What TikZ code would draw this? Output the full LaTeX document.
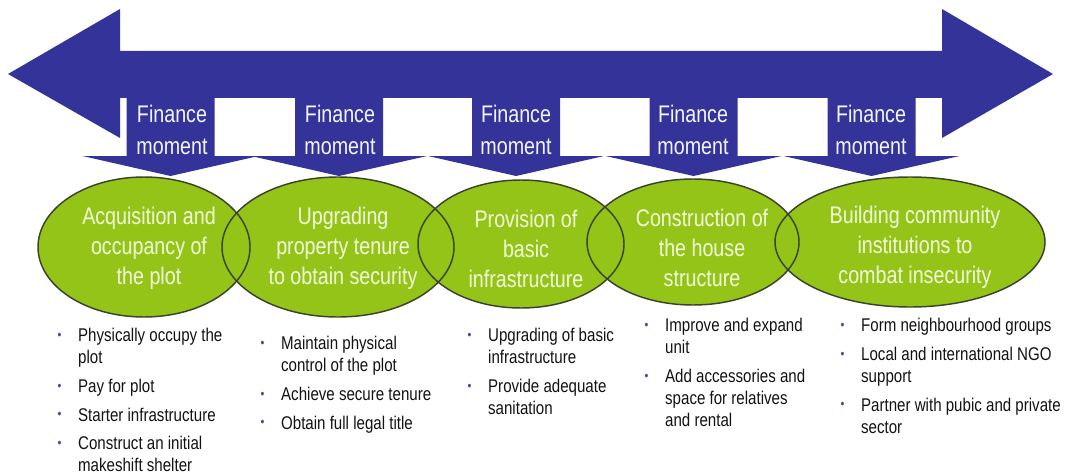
\documentclass[tikz,border=0pt]{standalone}
\usepackage{fontspec}
\newfontfamily\narrowfont[FakeStretch=0.82]{Liberation Sans}
\newcommand{\stagedot}{\makebox[15.5pt][l]{\color[RGB]{70,70,155}\fontsize{10}{10}\selectfont\raisebox{0.35ex}{\textbullet}}}

\tikzset{every picture/.style={line width=0.75pt}}
\tikzset{
  flowblue/.style={fill={rgb, 255:red, 51; green, 51; blue, 153 }},
  stagefill/.style={fill={rgb, 255:red, 148; green, 196; blue, 24 }},
  stageline/.style={draw={rgb, 255:red, 58; green, 68; blue, 44 }, line width=1.1pt},
  fintext/.style={color={rgb, 255:red, 245; green, 245; blue, 255 }, font=\narrowfont\fontsize{18}{24}\selectfont, align=center, inner sep=0pt},
  stagetext/.style={color={rgb, 255:red, 242; green, 250; blue, 218 }, font=\narrowfont\fontsize{18}{22.5}\selectfont, align=center, inner sep=0pt},
  listtext/.style={color={rgb, 255:red, 18; green, 18; blue, 18 }, font=\narrowfont\fontsize{13.8}{16.5}\selectfont, anchor=north west, inner sep=0pt}
}

\begin{document}
\begin{tikzpicture}[x=0.75pt,y=0.75pt,yscale=-1,xscale=1]
\useasboundingbox (0,0) rectangle (1069,474);

%Shape: Left-Right Arrow
\fill [flowblue] (8,74) -- (120,9) -- (120,51) -- (942,51) -- (942,9) -- (1053,74) -- (942,138) -- (942,98) -- (120,98) -- (120,138) -- cycle ;

%Shape: Down Arrow
\fill [flowblue] (126.5,90) -- (214.5,90) -- (214.5,156) -- (258.5,156) -- (170.5,176) -- (82.5,156) -- (126.5,156) -- cycle ;
%Shape: Down Arrow
\fill [flowblue] (295,90) -- (383,90) -- (383,156) -- (427,156) -- (339,176) -- (251,156) -- (295,156) -- cycle ;
%Shape: Down Arrow
\fill [flowblue] (472,90) -- (560,90) -- (560,156) -- (604,156) -- (516,176) -- (428,156) -- (472,156) -- cycle ;
%Shape: Down Arrow
\fill [flowblue] (649.5,90) -- (737.5,90) -- (737.5,156) -- (781.5,156) -- (693.5,176) -- (605.5,156) -- (649.5,156) -- cycle ;
%Shape: Down Arrow
\fill [flowblue] (827.5,90) -- (915.5,90) -- (915.5,156) -- (959.5,156) -- (871.5,176) -- (783.5,156) -- (827.5,156) -- cycle ;

%Shape: Ellipse
\fill [stagefill] (144,247) ellipse (106 and 70) ;
\fill [stagefill] (338,247) ellipse (116 and 70) ;
\fill [stagefill] (521,244) ellipse (103 and 64) ;
\fill [stagefill] (693,242) ellipse (106 and 63) ;
\fill [stagefill] (910,242) ellipse (135 and 65) ;
%Shape: Ellipse outlines
\draw [stageline] (144,247) ellipse (106 and 70) ;
\draw [stageline] (338,247) ellipse (116 and 70) ;
\draw [stageline] (521,244) ellipse (103 and 64) ;
\draw [stageline] (693,242) ellipse (106 and 63) ;
\draw [stageline] (910,242) ellipse (135 and 65) ;

% Text Node
\node (fin1) at (172,130) [fintext] {Finance\\moment};
% Text Node
\node (fin2) at (340,130) [fintext] {Finance\\moment};
% Text Node
\node (fin3) at (516,130) [fintext] {Finance\\moment};
% Text Node
\node (fin4) at (693,130) [fintext] {Finance\\moment};
% Text Node
\node (fin5) at (871,130) [fintext] {Finance\\moment};

% Text Node
\node (stage1) at (149,248) [stagetext] {Acquisition and\\occupancy of\\the plot};
% Text Node
\node (stage2) at (343,248) [stagetext] {Upgrading\\property tenure\\to obtain security};
% Text Node
\node (stage3) at (526,249) [stagetext] {Provision of\\basic\\infrastructure};
% Text Node
\node (stage4) at (702,248) [stagetext] {Construction of\\the house\\structure};
% Text Node
\node (stage5) at (915,247) [stagetext] {Building community\\institutions to\\combat insecurity};

% Text Node
\node (list1) at (57,326) [listtext] {\begin{tabular}{@{}l@{}l@{}}
\stagedot & Physically occupy the\\
 & plot\\[5pt]
\stagedot & Pay for plot\\[5pt]
\stagedot & Starter infrastructure\\[5pt]
\stagedot & Construct an initial\\
 & makeshift shelter
\end{tabular}};
% Text Node
\node (list2) at (260,334) [listtext] {\begin{tabular}{@{}l@{}l@{}}
\stagedot & Maintain physical\\
 & control of the plot\\[5pt]
\stagedot & Achieve secure tenure\\[5pt]
\stagedot & Obtain full legal title
\end{tabular}};
% Text Node
\node (list3) at (467,326) [listtext] {\begin{tabular}{@{}l@{}l@{}}
\stagedot & Upgrading of basic\\
 & infrastructure\\[5pt]
\stagedot & Provide adequate\\
 & sanitation
\end{tabular}};
% Text Node
\node (list4) at (644,316) [listtext] {\begin{tabular}{@{}l@{}l@{}}
\stagedot & Improve and expand\\
 & unit\\[5pt]
\stagedot & Add accessories and\\
 & space for relatives\\
 & and rental
\end{tabular}};
% Text Node
\node (list5) at (840,316) [listtext] {\begin{tabular}{@{}l@{}l@{}}
\stagedot & Form neighbourhood groups\\[5pt]
\stagedot & Local and international NGO\\
 & support\\[5pt]
\stagedot & Partner with pubic and private\\
 & sector
\end{tabular}};

\end{tikzpicture}
\end{document}
